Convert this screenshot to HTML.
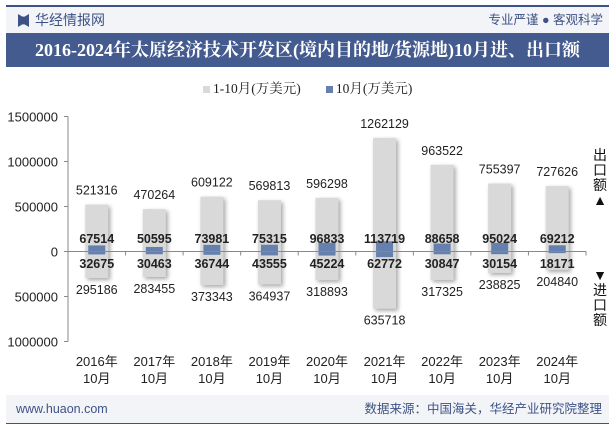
<!DOCTYPE html>
<html><head><meta charset="utf-8">
<style>
body{margin:0;width:615px;height:427px;overflow:hidden;background:#fff;font-family:"Liberation Sans","Noto Sans CJK SC",sans-serif;position:relative}
.abs{position:absolute}
</style></head><body>
<div class="abs" style="left:6px;top:5px;width:603px;height:2px;background:#3d5285"></div>
<div class="abs" style="left:6px;top:7px;width:603px;height:26px;background:#f3f4f8"></div>
<div class="abs" style="left:18px;top:14px;width:11px;height:13px;background:#3d5285;clip-path:polygon(0 0,40% 20%,60% 20%,100% 0,100% 100%,60% 80%,40% 80%,0 100%)"></div>
<div class="abs" style="left:35px;top:10px;font-size:14px;color:#3d5285;line-height:20px">华经情报网</div>
<div class="abs" style="left:404px;top:10px;width:199px;text-align:right;font-size:12.5px;color:#3d5285;line-height:20px">专业严谨 ● 客观科学</div>
<div class="abs" style="left:6px;top:33px;width:603px;height:34px;background:#445b8f;color:#fff;font-family:'Liberation Serif','Noto Serif CJK SC',serif;font-weight:bold;font-size:18px;line-height:34px;text-align:center;white-space:nowrap">2016-2024年太原经济技术开发区(境内目的地/货源地)10月进、出口额</div>
<div class="abs" style="left:0;top:77px;width:615px;text-align:center;font-family:'Liberation Serif','Noto Serif CJK SC',serif;font-size:13.5px;color:#222">
<span><span style="display:inline-block;width:7px;height:7px;background:#d9d9d9"></span> 1-10月(万美元)</span>
<span style="display:inline-block;width:18px"></span>
<span><span style="display:inline-block;width:7px;height:7px;background:#6680ad"></span> 10月(万美元)</span></div>
<svg class="abs" style="left:0;top:0" width="615" height="427" id="chart"></svg>
<div class="abs" style="left:592px;top:148px;width:16px;font-size:14px;line-height:15px;text-align:center;color:#111">出<br>口<br>额<br>▲</div>
<div class="abs" style="left:592px;top:268px;width:16px;font-size:14px;line-height:15px;text-align:center;color:#111">▼<br>进<br>口<br>额</div>
<div class="abs" style="left:6px;top:395px;width:603px;height:28px;background:#f3f4f8"></div>
<div class="abs" style="left:6px;top:423px;width:603px;height:1px;background:#3d5285"></div>
<div class="abs" style="left:16px;top:400px;font-size:12.5px;color:#3d5285;line-height:18px">www.huaon.com</div>
<div class="abs" style="left:300px;top:400px;width:302px;text-align:right;font-size:12.5px;color:#3d5285;line-height:18px">数据来源：中国海关，华经产业研究院整理</div>
<script>
const categories=["2016年","2017年","2018年","2019年","2020年","2021年","2022年","2023年","2024年"];
const exportYTD=[521316,470264,609122,569813,596298,1262129,963522,755397,727626];
const exportMonth=[67514,50595,73981,75315,96833,113719,88658,95024,69212];
const importMonth=[32675,30463,36744,43555,45224,62772,30847,30154,18171];
const importYTD=[295186,283455,373343,364937,318893,635718,317325,238825,204840];
const yTicks=[1500000,1000000,500000,0,-500000,-1000000];
const svg=document.getElementById('chart');const NS='http://www.w3.org/2000/svg';
const x0=68,x1=586,yZero=251.5,pxPer=45/500000;
const y=v=>yZero-v*pxPer;
const bw=(x1-x0)/categories.length;
const cx=i=>x0+bw*(i+0.5);
function mk(t,a,txt){const e=document.createElementNS(NS,t);for(const k in a)e.setAttribute(k,a[k]);if(txt!=null)e.textContent=txt;svg.appendChild(e);return e;}
let ax=mk('line',{x1:x0,y1:y(1500000),x2:x0,y2:y(-1000000),stroke:'#888'});

yTicks.forEach(v=>{let t=mk('line',{x1:x0-4,x2:x0,y1:y(v),y2:y(v),stroke:'#888'});

let l=mk('text',{x:x0-10,y:y(v)+5,'text-anchor':'end','font-size':13,fill:'#222'},String(Math.abs(v)));
});
categories.forEach((c,i)=>{const X=cx(i);
let g=mk('rect',{x:X-11.5,y:y(exportYTD[i]),width:23,height:y(-importYTD[i])-y(exportYTD[i]),fill:'#d9d9d9',style:'filter:drop-shadow(2px 2px 2px rgba(0,0,0,0.35))'});

let b=mk('rect',{x:X-8.5,y:y(exportMonth[i]),width:17,height:y(-importMonth[i])-y(exportMonth[i]),fill:'#6680ad'});

let t1=mk('text',{x:X,y:y(exportYTD[i])-10,'text-anchor':'middle','font-size':12.5,fill:'#222'},exportYTD[i]);

let t2=mk('text',{x:X,y:y(-importYTD[i])+16,'text-anchor':'middle','font-size':12.5,fill:'#222'},importYTD[i]);

let t3=mk('text',{x:X,y:243,'text-anchor':'middle','font-size':12.5,'font-weight':'bold',fill:'#222'},exportMonth[i]);

let t4=mk('text',{x:X,y:268,'text-anchor':'middle','font-size':12.5,'font-weight':'bold',fill:'#222'},importMonth[i]);

let c1=mk('text',{x:X,y:366,'text-anchor':'middle','font-size':13,fill:'#222'},c);

let c2=mk('text',{x:X,y:383,'text-anchor':'middle','font-size':13,fill:'#222'},'10月');

let tk=mk('line',{x1:x0+bw*(i+1),x2:x0+bw*(i+1),y1:yZero,y2:yZero+4,stroke:'#888'});
});
let xa=mk('line',{x1:x0,x2:x1,y1:yZero,y2:yZero,stroke:'#888'});

</script>
</body></html>
